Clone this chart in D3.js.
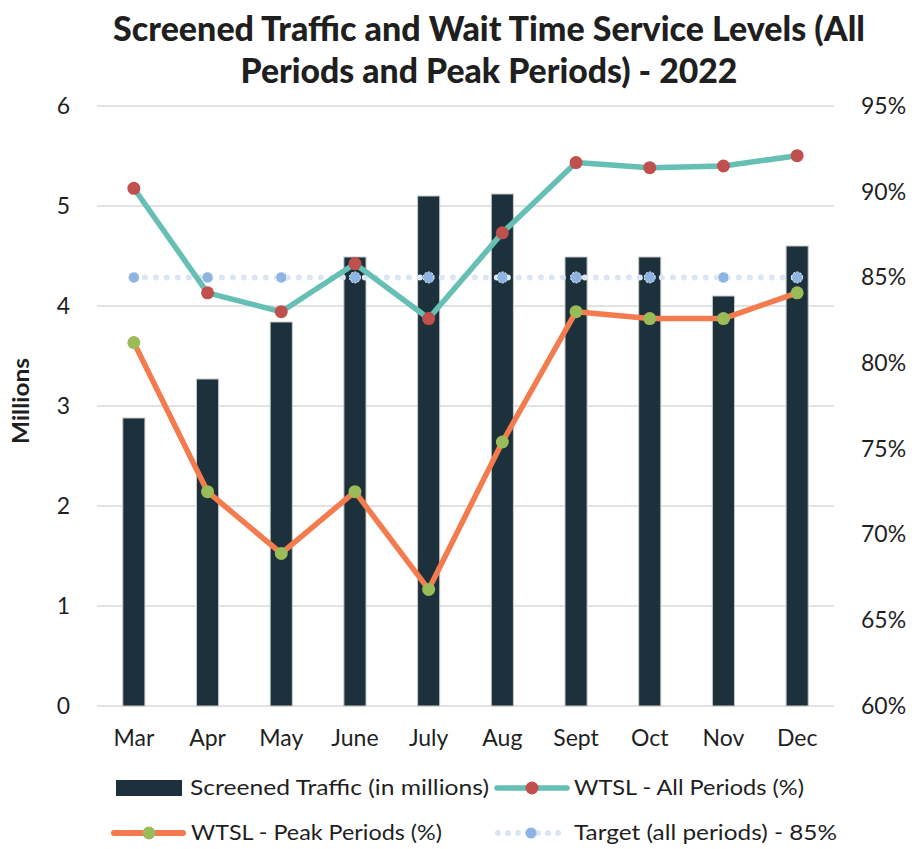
<!DOCTYPE html>
<html>
<head>
<meta charset="utf-8">
<script src="https://cdn.jsdelivr.net/npm/d3@7"></script>
<style>
  body { margin: 0; background: #fff; }
  text { font-family: Lato, "Open Sans", sans-serif; fill: #1f1f1f; }
</style>
</head>
<body>
<div id="chart"></div>
<script>
const months = ["Mar", "Apr", "May", "June", "July", "Aug", "Sept", "Oct", "Nov", "Dec"];
const traffic = [2.88, 3.27, 3.84, 4.49, 5.10, 5.12, 4.49, 4.49, 4.10, 4.60];
const wtslAll = [90.2, 84.1, 83.0, 85.8, 82.6, 87.6, 91.7, 91.4, 91.5, 92.1];
const wtslPeak = [81.2, 72.5, 68.9, 72.5, 66.8, 75.4, 83.0, 82.6, 82.6, 84.1];
const target = [85, 85, 85, 85, 85, 85, 85, 85, 85, 85];
const leftTicks = [0, 1, 2, 3, 4, 5, 6];
const rightTicks = [60, 65, 70, 75, 80, 85, 90, 95];

const width = 917, height = 849;
const plot = { left: 97, right: 834, top: 106, bottom: 706 };

const colors = {
  bar: "#1c313b",
  teal: "#66bfb4",
  red: "#c0504d",
  orange: "#f47b4e",
  green: "#9bbb59",
  target: "#dce6f3",
  targetDot: "#8db4e2",
  grid: "#d9d9d9",
  text: "#262626"
};

const svg = d3.select("#chart").append("svg")
  .attr("width", width)
  .attr("height", height);

const x = d3.scaleBand().domain(months).range([plot.left, plot.right]);
const y = d3.scaleLinear().domain([0, 6]).range([plot.bottom, plot.top]);
const y2 = d3.scaleLinear().domain([60, 95]).range([plot.bottom, plot.top]);
const cx = (m) => x(m) + x.bandwidth() / 2;
const barW = x.bandwidth() * 0.3;

// title, scaled to the reference width
function fitText(sel, w) {
  const len = sel.node().getComputedTextLength();
  const fs = parseFloat(sel.attr("font-size"));
  sel.attr("font-size", (fs * w / len).toFixed(2));
}
const title = svg.append("g").attr("font-weight", 900);
fitText(title.append("text").attr("x", 489).attr("y", 41).attr("text-anchor", "middle")
  .attr("font-size", 28).attr("fill", "#000").text("Screened Traffic and Wait Time Service Levels (All"), 752);
fitText(title.append("text").attr("x", 489).attr("y", 83).attr("text-anchor", "middle")
  .attr("font-size", 28).attr("fill", "#000").text("Periods and Peak Periods) - 2022"), 497);

// gridlines
svg.append("g").selectAll("line").data(leftTicks).join("line")
  .attr("x1", plot.left).attr("x2", plot.right)
  .attr("y1", (d) => y(d)).attr("y2", (d) => y(d))
  .attr("stroke", colors.grid).attr("stroke-width", 1.5);

// axes
const leftAxis = svg.append("g")
  .attr("transform", `translate(${plot.left},0)`)
  .call(d3.axisLeft(y).tickValues(leftTicks).tickSize(0).tickPadding(27).tickFormat(d3.format("d")));
const rightAxis = svg.append("g")
  .attr("transform", `translate(${plot.right},0)`)
  .call(d3.axisRight(y2).tickValues(rightTicks).tickSize(0).tickPadding(27).tickFormat((d) => d + "%"));
const bottomAxis = svg.append("g")
  .attr("transform", `translate(0,${plot.bottom})`)
  .call(d3.axisBottom(x).tickSize(0).tickPadding(24));
[leftAxis, rightAxis, bottomAxis].forEach((a) => {
  a.select(".domain").remove();
  a.selectAll("text").attr("font-size", 23).attr("font-family", "Lato, sans-serif").attr("fill", colors.text);
});

svg.append("text")
  .attr("transform", `translate(29,${(plot.top + plot.bottom) / 2 - 5}) rotate(-90)`)
  .attr("text-anchor", "middle")
  .attr("font-size", 22).attr("font-weight", "bold").attr("fill", "#000")
  .attr("textLength", 86).attr("lengthAdjust", "spacingAndGlyphs")
  .text("Millions");

// bars
svg.append("g").selectAll("rect").data(traffic).join("rect")
  .attr("x", (d, i) => cx(months[i]) - barW / 2)
  .attr("width", barW)
  .attr("y", (d) => y(d))
  .attr("height", (d) => y(0) - y(d))
  .attr("fill", colors.bar)
  .attr("stroke", "#c8c8c8").attr("stroke-width", 1);

const line = d3.line().x((d, i) => cx(months[i])).y((d) => y2(d));

// target line
svg.append("path").datum(target)
  .attr("d", line).attr("fill", "none")
  .attr("stroke", colors.target).attr("stroke-width", 6)
  .attr("stroke-linecap", "round").attr("stroke-dasharray", "0 11");
svg.append("g").selectAll("circle").data(target).join("circle")
  .attr("cx", (d, i) => cx(months[i])).attr("cy", (d) => y2(d)).attr("r", 5.5)
  .attr("fill", colors.targetDot).attr("stroke", "#fff").attr("stroke-width", 1)
  .attr("stroke-dasharray", "2 1.5");

function series(vals, lineColor, dotColor) {
  svg.append("path").datum(vals)
    .attr("d", line).attr("fill", "none")
    .attr("stroke", lineColor).attr("stroke-width", 5.5)
    .attr("stroke-linejoin", "round");
  svg.append("g").selectAll("circle").data(vals).join("circle")
    .attr("cx", (d, i) => cx(months[i])).attr("cy", (d) => y2(d)).attr("r", 6.5)
    .attr("fill", dotColor);
}
series(wtslPeak, colors.orange, colors.green);
series(wtslAll, colors.teal, colors.red);

// legend
const lg = svg.append("g").attr("font-size", 21);
const row1 = 788, row2 = 833;
function legendText(xPos, yPos, len, label) {
  lg.append("text").attr("x", xPos).attr("y", yPos).attr("dy", "0.35em")
    .attr("fill", colors.text)
    .attr("textLength", len).attr("lengthAdjust", "spacingAndGlyphs")
    .text(label);
}
lg.append("rect").attr("x", 116).attr("y", row1 - 8).attr("width", 66).attr("height", 16).attr("fill", colors.bar);
legendText(190, row1, 299, "Screened Traffic (in millions)");

lg.append("line").attr("x1", 497).attr("x2", 567).attr("y1", row1).attr("y2", row1)
  .attr("stroke", colors.teal).attr("stroke-width", 5.5).attr("stroke-linecap", "round");
lg.append("circle").attr("cx", 532).attr("cy", row1).attr("r", 6.5).attr("fill", colors.red);
legendText(574, row1, 230, "WTSL - All Periods (%)");

lg.append("line").attr("x1", 114).attr("x2", 183).attr("y1", row2).attr("y2", row2)
  .attr("stroke", colors.orange).attr("stroke-width", 6).attr("stroke-linecap", "round");
lg.append("circle").attr("cx", 149).attr("cy", row2).attr("r", 6.5).attr("fill", colors.green);
legendText(191, row2, 251, "WTSL - Peak Periods (%)");

lg.append("line").attr("x1", 498).attr("x2", 560).attr("y1", row2).attr("y2", row2)
  .attr("stroke", colors.target).attr("stroke-width", 6).attr("stroke-linecap", "round").attr("stroke-dasharray", "0 10");
lg.append("circle").attr("cx", 531).attr("cy", row2).attr("r", 5.5).attr("fill", colors.targetDot);
legendText(574, row2, 263, "Target (all periods) - 85%");
</script>
</body>
</html>
